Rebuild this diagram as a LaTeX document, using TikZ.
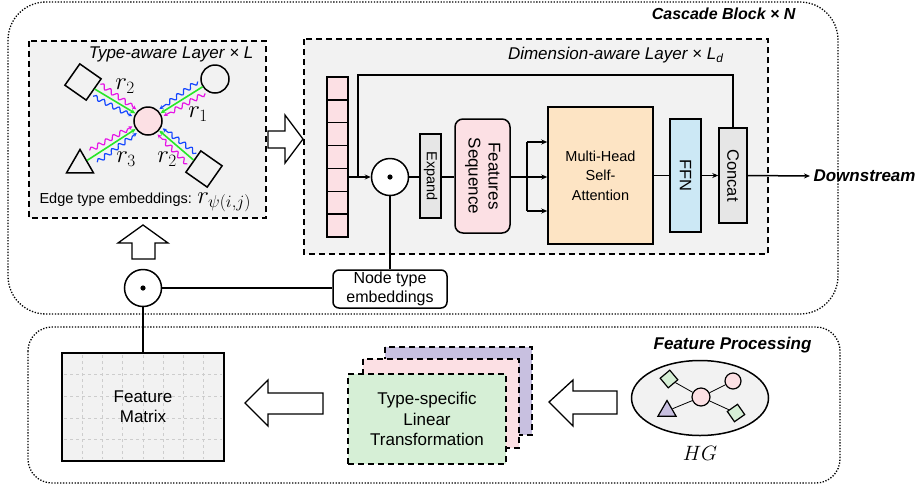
\documentclass[tikz,border=0pt]{standalone}
\usepackage{fontspec}
\setmainfont{Liberation Sans}
\usetikzlibrary{calc,shapes.geometric,decorations.pathmorphing,arrows.meta}
\definecolor{boxgray}{RGB}{242,242,242}
\definecolor{cellpink}{RGB}{252,224,228}
\definecolor{opgray}{RGB}{230,230,230}
\definecolor{attnorange}{RGB}{253,228,196}
\definecolor{ffnblue}{RGB}{204,232,245}
\definecolor{typegreen}{RGB}{214,239,214}
\definecolor{typepurple}{RGB}{200,192,224}
\definecolor{gridgray}{RGB}{205,205,205}
\definecolor{relgreen}{RGB}{40,230,40}
\definecolor{relmagenta}{RGB}{230,20,230}
\definecolor{relblue}{RGB}{20,70,255}
\newcommand{\fsz}[2]{\fontsize{#1}{#2}\selectfont}

\tikzset{
  line/.style={line width=1.5pt},
  dashbox/.style={draw, line width=1.5pt, dash pattern=on 6pt off 4pt},
  dotbox/.style={draw, line width=1.3pt, dash pattern=on 1.3pt off 1.6pt},
  opbox/.style={draw, line width=1.5pt, inner sep=0pt},
  odot/.style={draw, circle, line width=1.5pt, minimum size=37pt, inner sep=0pt, fill=white},
  hollow/.style={draw, line width=1.3pt, fill=white},
  glyph/.style={draw, line width=1.5pt, inner sep=0pt},
  wavy/.style={line width=1.2pt, decorate,
    decoration={snake, amplitude=2.2pt, segment length=8.5pt, post length=4pt},
    -{Stealth[length=4pt, width=4pt]}},
  relarrow/.style={relgreen, line width=1.6pt, -{Stealth[length=5pt, width=4.5pt]}},
  tip/.style={-{Stealth[length=6pt, width=5pt]}},
  mathlbl/.style={font=\fsz{23}{23}},
}

% relation of one edge type: two embeddings and the message
\newcommand{\reltype}[2]{%
  \coordinate (rs) at ($(#1)!16pt!(#2)$);
  \coordinate (re) at ($(#2)!16pt!(#1)$);
  \draw[wavy, relmagenta] ($(rs)!7pt!90:(re)$) -- ($(re)!4pt!-90:(rs)$);
  \draw[wavy, relblue] ($(rs)!7pt!-90:(re)$) -- ($(re)!4pt!90:(rs)$);
  \draw[relarrow] (#1) -- (#2);
}

\begin{document}
\begin{tikzpicture}[x=1pt, y=-1pt, font=\fsz{14.5}{17}]
    \useasboundingbox (0,0) rectangle (918,491);

    % cascade block
    \draw[dotbox, rounded corners=38pt] (8,2) rectangle (838,314);
    \node[anchor=east, font=\fsz{16}{18}\bfseries\itshape] (cascadelbl) at (799,14) {Cascade Block × N};

    % type-aware layer
    \draw[dashbox, fill=boxgray] (29,41) rectangle (266,218);
    \node[anchor=east, font=\fsz{17}{19}\itshape] (typelbl) at (257,54) {Type-aware Layer × L};
    \node[glyph, circle, fill=cellpink, minimum size=28pt] (tgt) at (148,121) {};
    \node[glyph, rectangle, minimum size=26pt, rotate=-35] (srcA) at (83,82) {};
    \node[glyph, circle, minimum size=28pt] (srcB) at (215,79) {};
    \node[glyph, regular polygon, regular polygon sides=3, minimum size=31pt] (srcC) at (80,165) {};
    \node[glyph, rectangle, minimum size=26pt, rotate=-35] (srcD) at (204,169) {};
    \reltype{srcA}{tgt}
    \reltype{srcB}{tgt}
    \reltype{srcC}{tgt}
    \reltype{srcD}{tgt}
    \node[mathlbl] (lblA) at (125,86) {$r_2$};
    \node[mathlbl] (lblB) at (198,114) {$r_1$};
    \node[mathlbl] (lblC) at (126,159) {$r_3$};
    \node[mathlbl] (lblD) at (167,159) {$r_2$};
    \node[anchor=west] (edgelbl) at (36,202) {Edge type embeddings: {\fsz{23}{23}$r_{\psi(i,j)}$}};

    % arrows between the layers
    \draw[hollow] (268,131) -- (285,131) -- (285,115) -- (303,139) -- (285,163) -- (285,148) -- (268,148) -- cycle;
    \draw[hollow] (132,259) -- (132,243) -- (118,243) -- (143,225) -- (168,243) -- (155,243) -- (155,259) -- cycle;

    % dimension-aware layer
    \draw[dashbox, fill=boxgray] (304,39) rectangle (768,254);
    \node[anchor=east, font=\fsz{17}{19}\itshape] (dimlbl) at (727,55) {Dimension-aware Layer × L\textsubscript{d}};
    \foreach \i in {0,...,6}
        \node[opbox, fill=cellpink, minimum width=21pt, minimum height=22.86pt] (cell\i) at (337.5,{88.43+22.86*\i}) {};
    \node[odot] (mul) at (390,177) {};
    \fill (mul.center) circle (2.6pt);
    \node[opbox, fill=opgray, minimum width=21pt, minimum height=84pt] (expand) at (430.5,176) {\rotatebox{-90}{Expand}};
    \node[opbox, fill=cellpink, rounded corners=8pt, minimum width=55pt, minimum height=114pt, font=\fsz{17}{20}] (seq) at (482.5,176)
        {\rotatebox{-90}{\begin{tabular}{@{}c@{}}Features\\Sequence\end{tabular}}};
    \node[opbox, fill=attnorange, minimum width=105pt, minimum height=137pt, align=center, font=\fsz{14.5}{19.5}] (mhsa) at (600.5,175.5)
        {Multi-Head\\Self-\\Attention};
    \node[opbox, fill=ffnblue, minimum width=31pt, minimum height=113pt, font=\fsz{16.5}{18}] (ffn) at (685.5,175.5) {\rotatebox{-90}{FFN}};
    \node[opbox, fill=opgray, minimum width=28pt, minimum height=95pt, font=\fsz{16.5}{18}] (concat) at (733,175.5) {\rotatebox{-90}{Concat}};
    \node[anchor=west, font=\fsz{17}{19}\bfseries\itshape] (down) at (810,176) {Downstream};

    % flow
    \coordinate (split) at (358,177);
    \coordinate (loop) at (733,75);
    \coordinate (fork) at (527,177);
    \draw[line, tip] (cell4.east |- mul) -- (mul.west);
    \draw[line] (split) |- (loop) -- (concat.north);
    \draw[line] (mul.east) -- (expand.west |- mul);
    \draw[line] (expand.east |- mul) -- (seq.west |- mul);
    \draw[line] (seq.east |- fork) -- (fork);
    \draw[line] (fork |- 0,142) -- (fork |- 0,211);
    \foreach \y in {142,177,211}
        \draw[line, tip] (fork |- 0,\y) -- (mhsa.west |- 0,\y);
    \draw[line] (mhsa.east |- ffn) -- (ffn.west);
    \draw[line, tip] (ffn.east) -- (concat.west);
    \draw[line, tip] (concat.east) -- (down.west);

    % node type embeddings
    \node[opbox, fill=white, rounded corners=6pt, minimum width=114pt, minimum height=38pt, align=center, font=\fsz{16}{19}] (ntype) at (390,289)
        {Node type\\embeddings};
    \node[odot] (mulB) at (143,288) {};
    \fill (mulB.center) circle (2.6pt);
    \draw[line] (mul.south) -- (ntype.north);
    \draw[line] (mulB.east) -- (ntype.west |- mulB);

    % feature processing
    \draw[dotbox, rounded corners=24pt] (28,327) rectangle (840,483);
    \node[anchor=east, font=\fsz{17}{19}\bfseries\itshape] (proclbl) at (815,345) {Feature Processing};

    % feature matrix
    \fill[boxgray] (62,353) rectangle (224,461);
    \foreach \i in {1,...,7}
        \draw[gridgray, dashed, line width=0.6pt] ({62+20.25*\i},355) -- ({62+20.25*\i},459);
    \foreach \j in {1,...,4}
        \draw[gridgray, dashed, line width=0.6pt] (64,{353+21.6*\j}) -- (222,{353+21.6*\j});
    \node[draw, line width=2.5pt, minimum width=162pt, minimum height=108pt, align=center, font=\fsz{17}{20}] (fmat) at (143,407)
        {Feature\\Matrix};
    \draw[line] (mulB.south) -- (fmat.north);

    % type-specific linear transformation
    \draw[dashbox, fill=typepurple] (385,347) rectangle (532,435);
    \draw[dashbox, fill=cellpink] (363,359) rectangle (519,448);
    \node[dashbox, fill=typegreen, minimum width=158pt, minimum height=90pt, align=center, font=\fsz{17}{20.5}] (linear) at (427,419)
        {Type-specific\\Linear\\Transformation};

    % arrows of the feature processing
    \draw[hollow] (323,393) -- (268,393) -- (268,380) -- (245,403) -- (268,426) -- (268,414) -- (323,414) -- cycle;
    \draw[hollow] (617,391) -- (573,391) -- (573,380) -- (549,402) -- (573,426) -- (573,414) -- (617,414) -- cycle;

    % heterogeneous graph
    \node[glyph, ellipse, fill=boxgray, minimum width=137pt, minimum height=75pt] (hg) at (700,398) {};
    \node[glyph, circle, fill=cellpink, minimum size=18pt, line width=1.2pt] (hc) at (701,397) {};
    \node[glyph, circle, fill=cellpink, minimum size=16pt, line width=1.2pt] (hr) at (733,381) {};
    \node[glyph, rectangle, fill=typegreen, minimum size=12.5pt, rotate=40, line width=1.2pt] (hdA) at (669,379) {};
    \node[glyph, rectangle, fill=typegreen, minimum size=12.5pt, rotate=35, line width=1.2pt] (hdB) at (736,413) {};
    \node[glyph, regular polygon, regular polygon sides=3, fill=typepurple, minimum size=21pt, line width=1.2pt] (ht) at (667,411) {};
    \foreach \n in {hr,hdA,hdB,ht}
        \draw[line width=0.8pt] (hc) -- (\n);
    \node (hglbl) at (700,453) {\fsz{21}{21}$HG$};
\end{tikzpicture}
\end{document}
